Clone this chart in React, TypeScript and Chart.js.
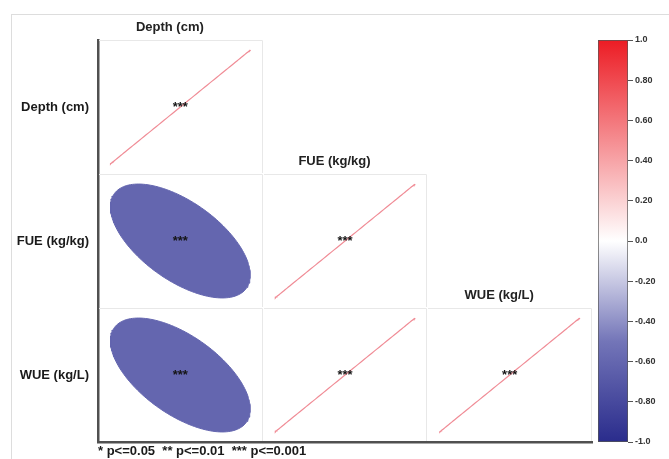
import React, { useEffect, useRef } from "react";
import { Chart, registerables } from "chart.js";

Chart.register(...registerables);

// ---- data ----
const variables = ["Depth (cm)", "FUE (kg/kg)", "WUE (kg/L)"];
// lower-triangle correlation matrix (row by row)
const corrDepth = [1];
const corrFUE = [-0.6, 1];
const corrWUE = [-0.6, 1, 1];
const corrRows = [corrDepth, corrFUE, corrWUE];
// significance marks (row by row)
const sigDepth = ["***"];
const sigFUE = ["***", "***"];
const sigWUE = ["***", "***", "***"];
const sigRows = [sigDepth, sigFUE, sigWUE];
const footnote = "* p<=0.05  ** p<=0.01  *** p<=0.001";
// colour bar
const colorTicks = [-1, -0.8, -0.6, -0.4, -0.2, 0, 0.2, 0.4, 0.6, 0.8, 1];
const colorTickLabels = ["-1.0", "-0.80", "-0.60", "-0.40", "-0.20", "0.0", "0.20", "0.40", "0.60", "0.80", "1.0"];
const colorStopValues = [-1, -0.5, 0, 0.5, 1];
const colorStopColors = ["#2A2C8C", "#7375B8", "#FFFFFF", "#F58D91", "#EC1C24"];

// ---- styles ----
const FONT = "'Liberation Sans', Arial, sans-serif";
const ELLIPSE_SCALE = 0.425;
const LINE_COLOR = "#F08C96";
const AXIS_COLOR = "#505050";
const CELL_BORDER = "#E8E8E8";

function hexToRgb(h: string) {
  const n = parseInt(h.slice(1), 16);
  return [(n >> 16) & 255, (n >> 8) & 255, n & 255];
}

function colorFor(v: number) {
  for (let i = 0; i < colorStopValues.length - 1; i++) {
    const a = colorStopValues[i], b = colorStopValues[i + 1];
    if (v >= a && v <= b) {
      const t = (v - a) / (b - a);
      const ca = hexToRgb(colorStopColors[i]);
      const cb = hexToRgb(colorStopColors[i + 1]);
      const c = ca.map((x, k) => Math.round(x + (cb[k] - x) * t));
      return `rgb(${c[0]},${c[1]},${c[2]})`;
    }
  }
  return colorStopColors[colorStopColors.length - 1];
}

function buildDatasets() {
  const ds: any[] = [];
  corrRows.forEach((row, r) =>
    row.forEach((val, c) => {
      const d = Math.acos(Math.max(-1, Math.min(1, val)));
      const pts: { x: number; y: number }[] = [];
      const N = 160;
      for (let k = 0; k <= N; k++) {
        const t = (2 * Math.PI * k) / N;
        pts.push({
          x: c + 0.5 + ELLIPSE_SCALE * Math.cos(t + d / 2),
          y: r + 0.5 - ELLIPSE_SCALE * Math.cos(t - d / 2),
        });
      }
      const isLine = Math.abs(val) > 0.999;
      const col = colorFor(val);
      ds.push({
        type: "line",
        data: pts,
        borderColor: isLine ? LINE_COLOR : col,
        backgroundColor: col,
        borderWidth: isLine ? 1.2 : 1,
        fill: isLine ? false : "shape",
        pointRadius: 0,
        tension: 0,
      });
    })
  );
  return ds;
}

const matrixDecor = {
  id: "matrixDecor",
  beforeDatasetsDraw(chart: any) {
    const { ctx } = chart;
    const xs = chart.scales.x;
    const ys = chart.scales.y;
    ctx.save();
    ctx.strokeStyle = CELL_BORDER;
    ctx.lineWidth = 1;
    corrRows.forEach((row, r) =>
      row.forEach((_v, c) => {
        const x0 = xs.getPixelForValue(c);
        const x1 = xs.getPixelForValue(c + 1);
        const y0 = ys.getPixelForValue(r);
        const y1 = ys.getPixelForValue(r + 1);
        ctx.beginPath();
        ctx.moveTo(Math.round(x0) + 1, Math.round(y0) + 0.5);
        ctx.lineTo(Math.round(x1) - 0.5, Math.round(y0) + 0.5);
        ctx.lineTo(Math.round(x1) - 0.5, Math.round(y1) - 1);
        ctx.stroke();
      })
    );
    ctx.restore();
  },
  afterDatasetsDraw(chart: any) {
    const { ctx } = chart;
    const xs = chart.scales.x;
    const ys = chart.scales.y;
    ctx.save();
    ctx.font = `bold 13px ${FONT}`;
    ctx.textAlign = "center";
    ctx.textBaseline = "middle";
    ctx.fillStyle = "#151515";
    sigRows.forEach((row, r) =>
      row.forEach((s, c) => {
        ctx.fillText(s, xs.getPixelForValue(c + 0.5), ys.getPixelForValue(r + 0.5));
      })
    );
    ctx.fillStyle = "#222222";
    variables.forEach((v, i) => {
      ctx.fillText(v, xs.getPixelForValue(i + 0.5) - 10.5, ys.getPixelForValue(i) - 13);
    });
    ctx.restore();
  },
};

export default function App() {
  const mainRef = useRef<HTMLCanvasElement>(null);
  const barRef = useRef<HTMLCanvasElement>(null);

  useEffect(() => {
    if (!mainRef.current || !barRef.current) return;
    const main = new Chart(mainRef.current, {
      type: "line",
      data: { datasets: buildDatasets() },
      options: {
        animation: false,
        responsive: false,
        devicePixelRatio: 1,
        layout: { padding: { left: 0, top: 40, right: 77, bottom: 0 } },
        plugins: { legend: { display: false }, tooltip: { enabled: false } },
        scales: {
          x: {
            type: "linear",
            min: 0,
            max: 3,
            position: "bottom",
            ticks: { display: false },
            grid: { display: false, drawTicks: false },
            border: { display: true, color: AXIS_COLOR, width: 2.5 },
            title: {
              display: true,
              text: footnote,
              align: "start",
              color: "#1a1a1a",
              font: { family: FONT, size: 13, weight: "bold" },
              padding: { top: 0, bottom: 0 },
            },
            afterFit: (s: any) => {
              s.height = 17;
            },
          },
          y: {
            type: "linear",
            min: 0,
            max: 3,
            reverse: true,
            position: "left",
            afterBuildTicks: (s: any) => {
              s.ticks = variables.map((_v, i) => ({ value: i + 0.5 }));
            },
            ticks: {
              callback: (_v: any, i: number) => variables[i],
              color: "#1a1a1a",
              font: { family: FONT, size: 13, weight: "bold" },
              padding: 9,
              autoSkip: false,
              maxRotation: 0,
              minRotation: 0,
            },
            grid: { display: false, drawTicks: false },
            border: { display: true, color: AXIS_COLOR, width: 2.5 },
            afterFit: (s: any) => {
              s.width = 98;
            },
          },
        },
      } as any,
      plugins: [matrixDecor],
    });

    const bar = new Chart(barRef.current, {
      type: "bar",
      data: {
        labels: [""],
        datasets: [
          {
            data: [[-1, 1]] as any,
            backgroundColor: (c: any) => {
              const chart = c.chart;
              if (!chart.chartArea) return "#ffffff";
              const ys = chart.scales.y;
              const g = chart.ctx.createLinearGradient(0, ys.getPixelForValue(-1), 0, ys.getPixelForValue(1));
              colorStopValues.forEach((v, i) => g.addColorStop((v + 1) / 2, colorStopColors[i]));
              return g;
            },
            borderColor: "#555555",
            borderWidth: 1,
            borderSkipped: false,
            barPercentage: 1,
            categoryPercentage: 1,
          } as any,
        ],
      },
      options: {
        animation: false,
        responsive: false,
        devicePixelRatio: 1,
        layout: { padding: { left: 6, top: 40, right: 0, bottom: 17 } },
        plugins: { legend: { display: false }, tooltip: { enabled: false } },
        scales: {
          x: { display: false },
          y: {
            type: "linear",
            min: -1,
            max: 1,
            position: "right",
            afterBuildTicks: (s: any) => {
              s.ticks = colorTicks.map((v) => ({ value: v }));
            },
            ticks: {
              callback: (_v: any, i: number) => colorTickLabels[i],
              color: "#333333",
              font: { family: FONT, size: 9, weight: "bold" },
              padding: 2,
              autoSkip: false,
            },
            grid: { display: true, drawOnChartArea: false, drawTicks: true, tickLength: 5, color: "#555555" },
            border: { display: false },
            afterFit: (s: any) => {
              s.width = 41;
            },
          },
        },
      } as any,
    });

    return () => {
      main.destroy();
      bar.destroy();
    };
  }, []);

  return (
    <div style={{ position: "fixed", left: 0, top: 0, width: 669, height: 459, background: "#ffffff" }}>
      <div
        style={{
          position: "absolute",
          left: 11,
          top: 14,
          right: 0,
          bottom: 0,
          borderTop: "1px solid #DDDDDD",
          borderLeft: "1px solid #DDDDDD",
        }}
      />
      <canvas
        ref={mainRef}
        width={669}
        height={459}
        style={{ position: "absolute", left: 0, top: 0, width: 669, height: 459 }}
      />
      <canvas
        ref={barRef}
        width={77}
        height={459}
        style={{ position: "absolute", left: 592, top: 0, width: 77, height: 459 }}
      />
    </div>
  );
}
